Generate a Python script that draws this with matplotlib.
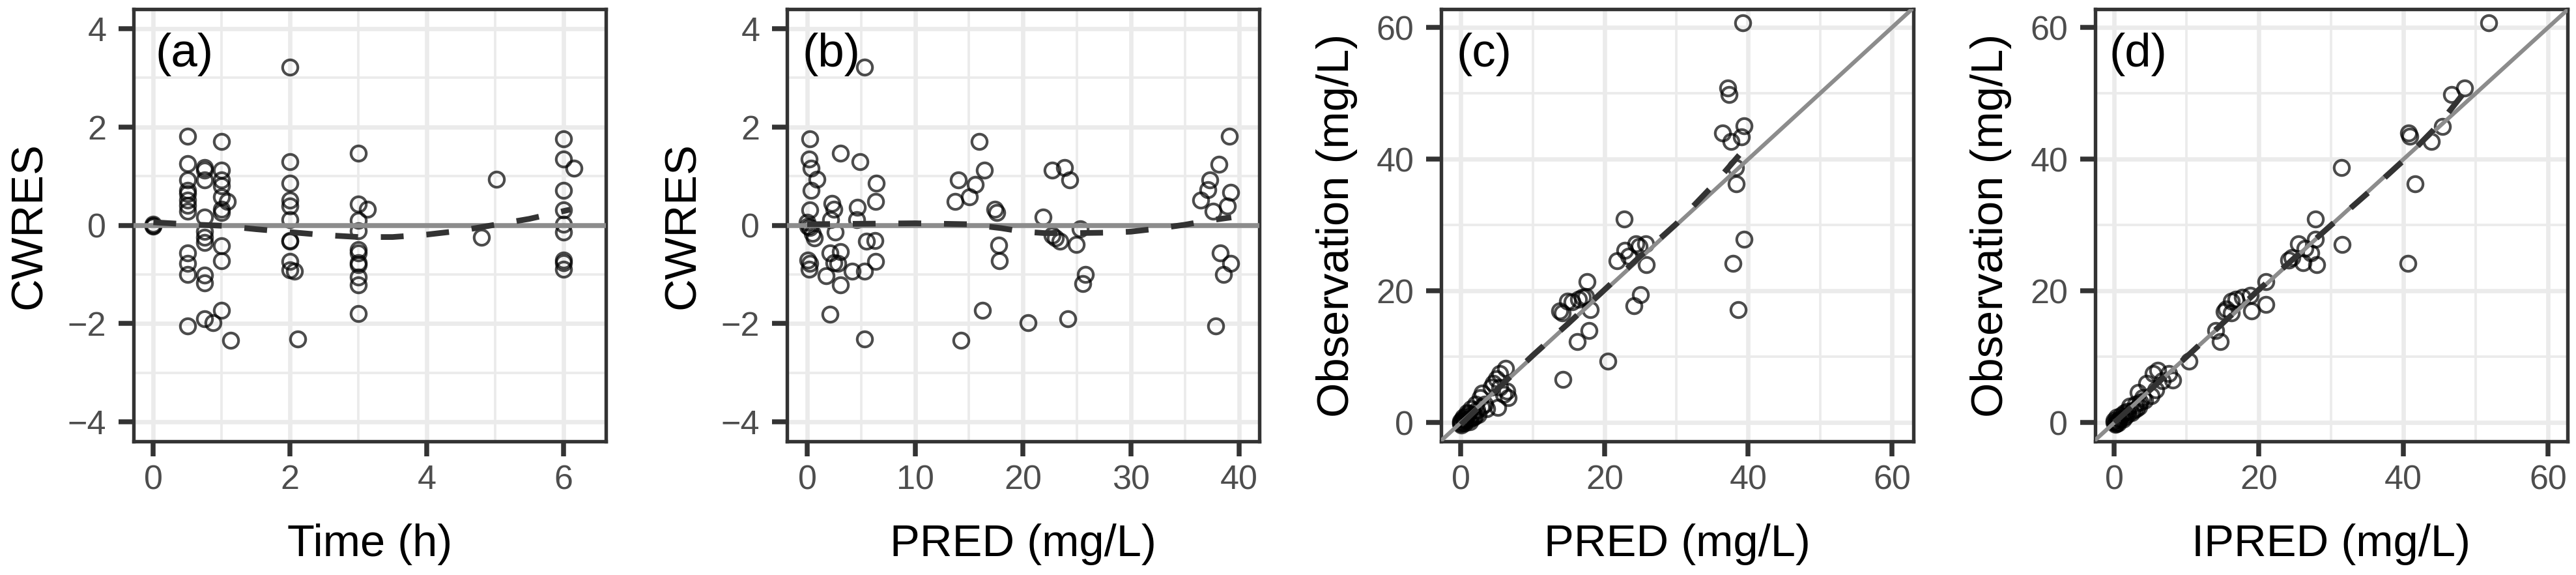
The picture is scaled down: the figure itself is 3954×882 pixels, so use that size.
import matplotlib.pyplot as plt
from matplotlib.ticker import MultipleLocator

plt.rcParams["font.family"] = ["Liberation Sans", "DejaVu Sans"]
plt.rcParams["axes.unicode_minus"] = True

# ── 1. DATA ──────────────────────────────────────────────────────────────────

# (a) CWRES vs time
time_a = [0, 0, 0,
          0.5, 0.5, 0.5, 0.5, 0.5, 0.5, 0.5, 0.5, 0.5, 0.5, 0.5, 0.5,
          0.75, 0.75, 0.75, 0.75, 0.75, 0.75, 0.75, 0.75, 0.75, 0.75, 0.87,
          1, 1, 1, 1, 1, 1, 1, 1, 1, 1, 1.08, 1.13,
          2, 2, 2, 2, 2, 2, 2, 2, 2, 2, 2.06, 2.11,
          3, 3, 3, 3, 3, 3, 3, 3, 3, 3, 3, 3.13,
          4.8, 5.02,
          6, 6, 6, 6, 6, 6, 6, 6, 6, 6.15]
cwres_a = [0.0, 0.02, -0.02,
           1.81, 1.25, 0.92, 0.71, 0.65, 0.51, 0.40, 0.28, -0.56, -0.78, -1.00, -2.05,
           1.18, 1.12, 0.92, 0.16, -0.13, -0.24, -0.35, -1.02, -1.17, -1.91, -1.99,
           1.71, 1.12, 0.92, 0.80, 0.58, 0.32, 0.26, -0.42, -0.72, -1.73, 0.48, -2.34,
           3.22, 1.30, 0.86, 0.51, 0.39, 0.11, -0.31, -0.33, -0.74, -0.91, -0.94, -2.31,
           1.47, 0.43, 0.10, -0.11, -0.50, -0.57, -0.76, -0.80, -1.06, -1.21, -1.80, 0.32,
           -0.24, 0.94,
           1.76, 1.35, 0.71, 0.31, 0.02, -0.14, -0.71, -0.76, -0.89, 1.16]
smooth_a_x = [0, 0.5, 1, 1.5, 2, 2.5, 3, 3.5, 4, 4.5, 5, 5.5, 6.1]
smooth_a_y = [0.06, 0.02, -0.01, -0.08, -0.14, -0.20, -0.24, -0.24, -0.19, -0.11, 0.01, 0.13, 0.32]

# (b) CWRES vs PRED
pred_b = [0.27, 0.19, 0.35, 0.89, 0.39, 0.27, 0.0, 0.05, 0.27, 0.46, 0.66, 0.08, 0.27, 0.19,
          3.09, 2.32, 2.48, 2.2, 2.59, 2.09, 3.09, 2.48, 2.86, 1.74, 3.06, 2.09,
          4.91, 4.64, 4.6, 4.14, 5.3, 5.3, 5.3, 5.49, 6.38, 6.34, 6.27, 6.34,
          14.0, 13.7, 14.27, 15.05, 15.55, 15.94, 16.4, 16.25, 17.37, 17.6, 17.76, 17.8,
          20.46, 21.86, 22.7, 23.87, 24.33, 22.7, 23.0, 23.4, 24.18, 24.95, 25.3, 25.8, 25.53,
          36.44, 37.14, 37.29, 37.6, 38.18, 39.15, 39.27, 38.96, 38.26, 38.57, 39.27, 37.87]
cwres_b = [1.76, 1.35, 1.16, 0.94, 0.71, 0.31, 0.06, -0.02, -0.05, -0.16, -0.26, -0.71, -0.78, -0.89,
           1.47, 0.45, 0.32, 0.11, -0.14, -0.57, -0.54, -0.76, -0.78, -1.03, -1.21, -1.81,
           1.30, 0.36, 0.11, -0.93, -0.94, 3.22, -2.31, -0.33, 0.86, 0.48, -0.31, -0.74,
           0.92, 0.48, -2.34, 0.58, 0.83, 1.71, 1.12, -1.73, 0.33, 0.26, -0.41, -0.72,
           -1.99, 0.16, 1.12, 1.18, 0.92, -0.20, -0.26, -0.33, -1.91, -0.39, -0.07, -1.00, -1.19,
           0.51, 0.73, 0.92, 0.28, 1.24, 1.81, 0.67, 0.39, -0.56, -1.00, -0.77, -2.05]
smooth_b_x = [0, 5, 10, 15, 18, 20, 22, 25, 28, 30, 32, 35, 37, 39.3]
smooth_b_y = [0.02, 0.03, 0.04, 0.02, -0.06, -0.13, -0.16, -0.16, -0.15, -0.13, -0.08, 0.01, 0.09, 0.16]

# (c) observation vs PRED
pred_c = [0, 0, 0, 0.3, 0.9, 1.45, 2.1, 2.7, 3.0, 1.8, 1.2, 3.3, 3.6, 4.2, 4.5, 5.0, 5.4, 5.4,
          6.2, 6.4, 6.0, 6.6, 5.1, 0.4, 0.8, 1.6, 2.2,
          0.1, 0.2, 0.5, 0.6, 1.0, 1.1, 1.3, 2.0, 2.4, 2.9,
          13.8, 14.1, 14.8, 15.5, 16.4, 16.9, 17.4, 18.0, 17.8, 16.2, 14.2, 17.6, 20.5,
          22.7, 22.8, 21.7, 23.4, 24.4, 25.7, 24.8, 25.8, 25.0, 24.1,
          39.2, 37.15, 37.3, 36.45, 37.6, 39.4, 39.1, 38.2, 38.3, 39.4, 37.9, 38.6]
obs_c = [0, 0.2, -0.2, 0.8, 1.5, 2.1, 2.8, 3.8, 4.5, 0.8, 0.1, 2.8, 2.1, 5.4, 6.0, 6.7, 7.4, 5.4,
         8.2, 4.75, 4.3, 3.8, 2.3, 0.4, 1.0, 1.2, 1.9,
         -0.4, 0.5, -0.1, 0.3, 0.4, 1.4, 0.6, 1.0, 1.2, 2.4,
         17.0, 16.7, 18.4, 18.3, 18.7, 19.0, 19.1, 17.2, 14.0, 12.3, 6.6, 21.4, 9.3,
         30.9, 26.2, 24.6, 25.3, 27.2, 27.2, 26.8, 24.0, 19.4, 17.7,
         60.7, 50.8, 49.8, 44.0, 42.7, 45.1, 43.4, 38.7, 36.3, 27.8, 24.2, 17.2]
smooth_c_x = [0, 5, 10, 15, 21, 25, 30, 35, 39.2]
smooth_c_y = [-0.3, 5.0, 10.2, 15.1, 21.2, 25.3, 30.2, 35.9, 41.2]

# (d) observation vs IPRED
ipred_d = [0, 0, 0.2, 0.3, 1.2, 1.4, 2.1, 2.4, 3.0, 3.6, 3.3, 3.9, 4.5, 5.1, 5.7, 5.4, 6.0, 6.6,
           7.5, 8.1, 0.6, 1.0, 1.8,
           0.1, 0.3, 0.5, 0.8, 1.5, 1.9, 2.7, 2.9, 3.4, 4.2,
           10.3, 14.0, 14.7, 15.2, 15.5, 16.2, 16.2, 16.8, 17.7, 18.8, 19.0, 21.0, 21.0,
           24.1, 24.6, 25.5, 26.4, 27.2, 26.1, 27.8, 27.8, 28.0, 31.4, 31.5,
           40.6, 40.75, 40.9, 41.6, 43.9, 45.4, 46.7, 48.5, 51.8]
obs_d = [0, 0.3, -0.2, 0.8, 0.5, 1.5, 2.5, 1.5, 2.1, 3.1, 4.6, 3.8, 6.0, 4.1, 5.0, 7.4, 7.9, 6.4,
         7.4, 6.5, 0.4, 1.1, 1.7,
         -0.3, 0.1, -0.1, 0.5, 0.9, 1.3, 1.9, 2.8, 2.4, 3.4,
         9.3, 14.0, 12.3, 16.9, 17.3, 18.4, 16.7, 18.7, 19.0, 19.3, 17.0, 21.4, 17.9,
         24.7, 25.1, 27.2, 26.5, 25.8, 24.3, 30.9, 27.8, 24.0, 38.7, 27.1,
         24.2, 44.0, 43.5, 36.3, 42.7, 45.0, 49.8, 50.8, 60.7]
smooth_d_x = [0, 10, 20, 30, 35, 40, 45, 49.6]
smooth_d_y = [0, 10, 20.2, 30, 34.8, 39.8, 45.4, 51.8]

# ── 2. FIGURE ────────────────────────────────────────────────────────────────

W, H = 3954, 882
fig = plt.figure(figsize=(W / 300, H / 300), dpi=300)

panels = [
    # x, y, smooth x, smooth y, tag, xlabel, ylabel, xlim, ylim, major, minor, left px, tag x
    (time_a, cwres_a, smooth_a_x, smooth_a_y, "(a)", "Time (h)", "CWRES",
     (-0.29, 6.62), (-4.4, 4.4), (2, 2), (1, 1), 205, 0.046),
    (pred_b, cwres_b, smooth_b_x, smooth_b_y, "(b)", "PRED (mg/L)", "CWRES",
     (-1.87, 41.9), (-4.4, 4.4), (10, 2), (5, 1), 1208, 0.033),
    (pred_c, obs_c, smooth_c_x, smooth_c_y, "(c)", "PRED (mg/L)", "Observation (mg/L)",
     (-2.75, 63.0), (-2.85, 62.8), (20, 20), (10, 10), 2212, 0.033),
    (ipred_d, obs_d, smooth_d_x, smooth_d_y, "(d)", "IPRED (mg/L)", "Observation (mg/L)",
     (-2.65, 62.7), (-2.85, 62.8), (20, 20), (10, 10), 3216, 0.030),
]

for (x, y, sx, sy, tag, xlab, ylab, xlim, ylim, major, minor, left, tag_x) in panels:
    ax = fig.add_axes([left / W, (H - 677) / H, 725 / W, 663 / H])
    ax.set_xlim(*xlim)
    ax.set_ylim(*ylim)
    ax.xaxis.set_major_locator(MultipleLocator(major[0]))
    ax.yaxis.set_major_locator(MultipleLocator(major[1]))
    ax.xaxis.set_minor_locator(MultipleLocator(minor[0]))
    ax.yaxis.set_minor_locator(MultipleLocator(minor[1]))

    ax.set_axisbelow(True)
    ax.grid(which="major", color="#EBEBEB", linewidth=1.6)
    ax.grid(which="minor", color="#EBEBEB", linewidth=0.9)
    for s in ax.spines.values():
        s.set_color("#333333")
        s.set_linewidth(1.3)
    ax.tick_params(which="major", direction="out", length=5.5, width=1.8,
                   color="#333333", labelcolor="#4D4D4D", labelsize=12.5)
    ax.tick_params(axis="x", pad=3.0)
    ax.tick_params(axis="y", pad=4.5)
    ax.tick_params(which="minor", length=0)

    ax.plot(x, y, "o", mfc="none", mec="black", alpha=0.7, ms=5.6, mew=1.0, zorder=2)

    if ylab == "CWRES":
        ax.axhline(0, color="#8C8C8C", linewidth=1.8, zorder=3)
    else:
        ax.axline((0, 0), slope=1, color="#8C8C8C", linewidth=1.5, zorder=3)

    # loess trend
    ax.plot(sx, sy, color="#333333", linewidth=2.1, linestyle=(0, (4.0, 4.0)), zorder=4)

    ax.text(tag_x, 0.867, tag, transform=ax.transAxes, fontsize=17.5,
            ha="left", va="baseline", color="black", zorder=5)

    ax.set_xlabel(xlab, fontsize=16.5, va="baseline", color="black")
    ax.xaxis.set_label_coords(0.5, -0.265)
    ax.set_ylabel(ylab, fontsize=16.5, va="center", color="black")
    ax.yaxis.set_label_coords(-0.22, 0.5)

fig.savefig("out.png", dpi=300)
plt.close(fig)
